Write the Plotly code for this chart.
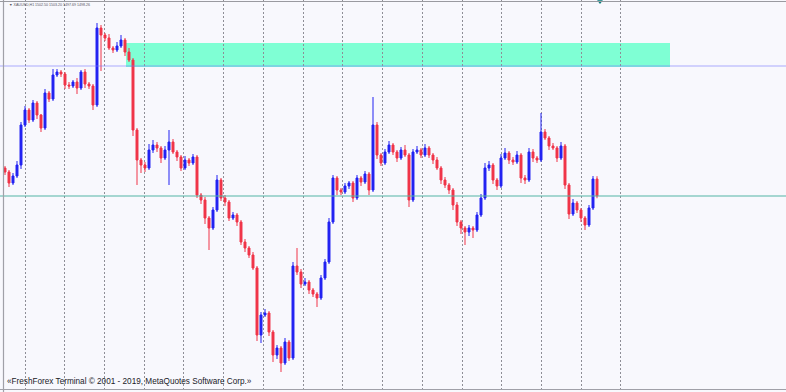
import plotly.graph_objects as go

# ---- data (XAUUSD H1) ----
symbol = "XAUUSD,H1"
first_open = 1505.25
closes = [
    1504.25, 1501.5, 1503.25, 1506.0, 1516.0, 1519.75, 1517.25, 1521.5, 1518.5, 1515.25,
    1524.0, 1522.5, 1528.5, 1529.25, 1528.75, 1526.0, 1525.75, 1526.75, 1525.25, 1529.25,
    1526.25, 1525.75, 1521.0, 1540.25, 1538.5, 1537.75, 1535.25, 1534.75, 1535.75, 1537.25,
    1534.25, 1532.25, 1514.75, 1507.25, 1506.0, 1505.25, 1509.75, 1511.0, 1510.25, 1507.75,
    1509.75, 1511.75, 1509.25, 1508.0, 1505.25, 1507.25, 1506.5, 1508.0, 1498.5, 1497.25,
    1492.75, 1490.25, 1494.75, 1502.25, 1497.75, 1496.75, 1492.75, 1493.5, 1491.75, 1486.75,
    1485.25, 1483.5, 1480.25, 1463.5, 1468.5, 1469.0, 1464.25, 1458.5, 1460.25, 1456.5,
    1461.75, 1457.75, 1480.75, 1479.25, 1476.25, 1476.75, 1474.75, 1473.75, 1472.75, 1477.75,
    1481.75, 1491.75, 1502.75, 1499.75, 1499.25, 1500.75, 1501.5, 1497.75, 1502.75, 1501.75,
    1503.75, 1499.75, 1516.0, 1508.5, 1506.5, 1509.25, 1511.0, 1509.25, 1507.75, 1509.75,
    1508.5, 1497.25, 1509.25, 1509.75, 1508.5, 1510.25, 1508.5, 1507.25, 1505.25, 1502.25,
    1501.0, 1499.75, 1496.0, 1491.75, 1490.25, 1489.25, 1490.25, 1489.75, 1493.5, 1497.75,
    1505.25, 1506.0, 1502.25, 1500.75, 1507.75, 1509.0, 1507.25, 1506.75, 1508.5, 1502.75,
    1502.25, 1509.25, 1507.75, 1507.25, 1514.25, 1512.75, 1510.75, 1510.25, 1507.75, 1510.75,
    1501.0, 1493.75, 1496.5, 1494.75, 1492.75, 1491.0, 1495.25, 1502.5, 1498.26,
]
upper_wicks = [
    0.5, 0.5, 0.75, 1.0, 0.75, 1.0, 0.5, 0.75, 0.5, 0.25,
    1.0, 0.5, 1.5, 0.75, 0.5, 0.5, 0.75, 0.5, 1.0, 0.5,
    0.75, 0.5, 0.5, 1.25, 0.75, 0.5, 1.0, 0.5, 1.0, 1.25,
    0.5, 1.0, 0.5, 0.5, 0.5, 0.75, 1.5, 1.25, 0.75, 0.5,
    1.0, 3.0, 0.75, 0.5, 0.5, 1.0, 0.5, 0.75, 0.5, 0.5,
    0.75, 0.5, 0.75, 1.25, 0.5, 0.75, 0.5, 0.75, 0.5, 0.5,
    0.75, 0.5, 0.75, 0.5, 0.75, 1.0, 0.5, 0.5, 0.75, 0.5,
    1.0, 0.5, 1.0, 4.5, 0.75, 1.0, 0.5, 0.5, 0.5, 0.75,
    0.75, 1.0, 0.75, 0.5, 0.5, 0.75, 0.5, 0.5, 0.75, 0.5,
    0.75, 0.5, 7.0, 0.75, 0.5, 0.75, 1.0, 0.5, 0.5, 0.75,
    1.25, 0.5, 0.75, 1.0, 0.5, 1.0, 0.5, 0.5, 0.75, 0.5,
    0.75, 0.5, 0.5, 0.75, 0.5, 0.5, 0.75, 0.5, 0.75, 1.0,
    1.25, 1.0, 0.5, 0.5, 1.0, 1.25, 0.5, 0.75, 1.0, 0.5,
    0.75, 1.0, 0.75, 0.5, 4.75, 0.75, 0.5, 0.75, 0.5, 1.0,
    0.5, 0.5, 1.0, 0.5, 0.5, 0.5, 0.75, 0.75, 0.7,
]
lower_wicks = [
    0.75, 1.0, 0.5, 0.5, 1.0, 0.5, 0.75, 0.5, 1.0, 1.0,
    0.5, 0.75, 0.5, 0.5, 0.75, 1.0, 0.75, 0.5, 1.5, 0.5,
    1.0, 0.75, 1.25, 0.5, 9.0, 0.75, 0.5, 0.75, 0.5, 0.5,
    1.0, 0.5, 1.5, 6.25, 2.0, 1.0, 0.5, 0.75, 1.0, 1.25,
    0.5, 8.75, 0.5, 1.0, 0.75, 0.5, 0.75, 0.5, 0.75, 1.0,
    1.5, 5.5, 0.5, 0.5, 0.75, 1.0, 0.75, 0.5, 1.0, 0.75,
    1.0, 0.75, 0.5, 1.5, 2.0, 0.5, 1.0, 1.75, 1.0, 2.25,
    0.5, 0.75, 0.5, 0.75, 1.0, 0.5, 1.0, 0.75, 2.25, 0.5,
    0.5, 0.5, 0.5, 1.25, 0.75, 0.5, 0.75, 1.0, 0.5, 1.0,
    0.5, 1.25, 0.5, 1.0, 0.75, 0.5, 0.5, 0.75, 1.0, 0.5,
    0.5, 1.75, 0.5, 0.5, 0.75, 0.5, 0.75, 1.0, 0.5, 1.0,
    0.75, 1.0, 1.25, 1.0, 1.5, 3.25, 1.0, 2.0, 0.5, 0.5,
    0.5, 0.75, 1.0, 1.0, 0.5, 0.5, 1.0, 0.75, 0.5, 1.25,
    1.0, 0.5, 1.0, 0.75, 0.5, 0.5, 1.0, 0.5, 1.0, 0.5,
    1.0, 1.25, 0.5, 0.75, 1.0, 1.25, 0.5, 0.5, 0.57,
]
resistance_zone = (1530.5, 1536.5)   # price band of the green rectangle
zone_bars = (30.25, 166.25)          # bar span of the green rectangle
level_blue = 1530.75
level_teal = 1498.25
copyright_text = "«FreshForex Terminal © 2001 - 2019, MetaQuotes Software Corp.»"

# ---- build OHLC ----
n = len(closes)
bars = list(range(n))
opens = [first_open] + closes[:-1]
highs = [max(o, c) + u for o, c, u in zip(opens, closes, upper_wicks)]
lows = [min(o, c) - d for o, c, d in zip(opens, closes, lower_wicks)]

# time-grid separators (every ~9.93 bars, 16 of them)
grid_positions = [5 + 9.933 * k for k in range(16)]

BLUE = "#2222f2"
RED = "#f03448"
BG = "#f8f8fd"

fig = go.Figure()
fig.add_trace(go.Candlestick(
    x=bars, open=opens, high=highs, low=lows, close=closes,
    increasing=dict(line=dict(color=BLUE, width=1), fillcolor=BLUE),
    decreasing=dict(line=dict(color=RED, width=1), fillcolor=RED),
    whiskerwidth=0, hoverinfo="skip", showlegend=False,
))
fig.add_trace(go.Scatter(
    x=[148.75], y=[1546.9], mode="markers",
    marker=dict(symbol="triangle-down", size=5, color="#007a78"),
    hoverinfo="skip", showlegend=False,
))

# green rectangle (below data)
fig.add_shape(type="rect", xref="x", yref="y",
              x0=zone_bars[0], x1=zone_bars[1],
              y0=resistance_zone[0], y1=resistance_zone[1],
              fillcolor="#7fffd4", line=dict(width=0), layer="below")
# horizontal levels
fig.add_shape(type="line", xref="paper", yref="y", x0=0, x1=1,
              y0=level_blue, y1=level_blue,
              line=dict(color="rgba(120,120,255,0.6)", width=1.2), layer="above")
fig.add_shape(type="line", xref="paper", yref="y", x0=0, x1=1,
              y0=level_teal, y1=level_teal,
              line=dict(color="#52b4a6", width=1.2), layer="above")
# frame
fig.add_shape(type="line", xref="paper", yref="paper", x0=3.5/786, x1=3.5/786, y0=0, y1=1,
              line=dict(color="#a0a0a8", width=1.2))
fig.add_shape(type="line", xref="paper", yref="paper", x0=0, x1=1, y0=1 - 1.5/392, y1=1 - 1.5/392,
              line=dict(color="#9a9aa0", width=1.2))
fig.add_shape(type="line", xref="paper", yref="paper", x0=0, x1=1, y0=2.5/392, y1=2.5/392,
              line=dict(color="#a0a0a8", width=1.2))

header = "▼ {} {:.2f} {:.2f} {:.2f} {:.2f}".format(symbol, opens[-1], highs[-1], lows[-1], closes[-1])
fig.add_annotation(xref="paper", yref="paper", x=7/786, y=1 - 5/392, text=header,
                   showarrow=False, xanchor="left", yanchor="middle",
                   font=dict(family="Liberation Sans, Arial", size=3.6, color="#555560"))
fig.add_annotation(xref="paper", yref="paper", x=5/786, y=1 - 381/392, text=copyright_text,
                   showarrow=False, xanchor="left", yanchor="middle",
                   font=dict(family="Liberation Sans, Arial", size=8.2, color="#202028"))

fig.update_layout(
    width=786, height=392,
    margin=dict(l=0, r=0, t=0, b=0),
    paper_bgcolor=BG, plot_bgcolor=BG,
    xaxis=dict(range=[-1.25, 195.25], rangeslider=dict(visible=False),
               showgrid=True, gridcolor="#8e8e96", griddash="2px,2px", gridwidth=1,
               tickmode="array", tickvals=grid_positions,
               showticklabels=False, zeroline=False, ticks="", showline=False),
    yaxis=dict(range=[1449.25, 1547.25], showgrid=False, showticklabels=False,
               zeroline=False, ticks="", showline=False),
)

fig.write_html(
    "out.html",
    config={"displayModeBar": False, "staticPlot": True},
    post_script="document.body.style.margin='0px';document.body.style.overflow='hidden';"
                "document.body.style.background='" + BG + "';",
)
